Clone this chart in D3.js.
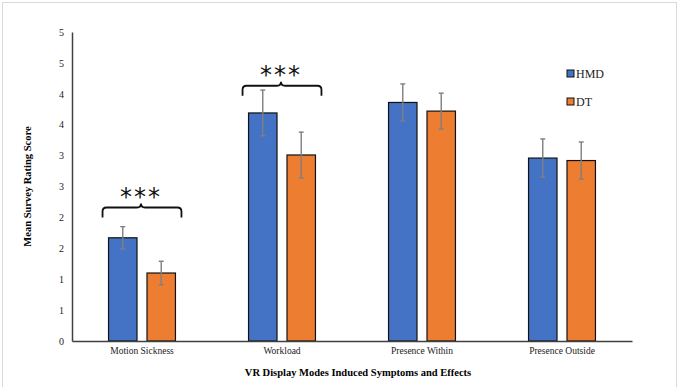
<!DOCTYPE html>
<html>
<head>
<meta charset="utf-8">
<script src="https://cdn.jsdelivr.net/npm/d3@7"></script>
<style>
  body { margin: 0; background: #fff; }
</style>
</head>
<body>
<div id="chart"></div>
<script>
// data
const categories = ["Motion Sickness", "Workload", "Presence Within", "Presence Outside"];
const series = ["HMD", "DT"];
const hmdMeans = [1.67, 3.69, 3.86, 2.96];
const hmdErr = [0.18, 0.37, 0.30, 0.31];
const dtMeans = [1.10, 3.01, 3.72, 2.92];
const dtErr = [0.19, 0.37, 0.29, 0.30];
const yTicks = [0, 0.5, 1, 1.5, 2, 2.5, 3, 3.5, 4, 4.5, 5];
// significance brackets: category and bracket height (in score units)
const sigCats = ["Motion Sickness", "Workload"];
const sigLevels = [2.16, 4.13];

const width = 680;
const height = 387;
const margin = { top: 32, right: 48, bottom: 46, left: 72 };
const colors = { HMD: "#4472C4", DT: "#ED7D31" };
const serif = "'Liberation Serif', 'Times New Roman', serif";

const svg = d3.select("#chart")
    .append("svg")
    .attr("width", width)
    .attr("height", height)
    .style("font-family", serif);

// chart border
svg.append("rect")
    .attr("x", 2.5).attr("y", 2.5)
    .attr("width", 674).attr("height", 390)
    .attr("fill", "none")
    .attr("stroke", "#d9d9d9");

const x = d3.scaleBand()
    .domain(categories)
    .range([margin.left, width - margin.right]);

const x1 = d3.scaleBand()
    .domain(series)
    .range([0, x.bandwidth()])
    .paddingInner(0.26)
    .paddingOuter(0.95);

const y = d3.scaleLinear()
    .domain([0, 5])
    .range([height - margin.bottom, margin.top]);

const rows = categories.map((c, i) => ({
    cat: c,
    vals: [
        { s: "HMD", v: hmdMeans[i], e: hmdErr[i] },
        { s: "DT", v: dtMeans[i], e: dtErr[i] }
    ]
}));

// y axis
const yAxis = svg.append("g")
    .attr("transform", `translate(${margin.left},0)`)
    .call(d3.axisLeft(y).tickValues(yTicks).tickSize(0).tickPadding(8)
        .tickFormat(d => Math.round(d)));
yAxis.attr("font-family", serif);
yAxis.select(".domain").attr("stroke", "#404040").attr("stroke-width", 1.5);
yAxis.selectAll("text").style("font-family", serif).style("font-size", "10px").attr("fill", "#222");

// bars
const groups = svg.selectAll(".grp")
    .data(rows)
    .enter().append("g")
    .attr("transform", d => `translate(${x(d.cat)},0)`);

groups.selectAll("rect")
    .data(d => d.vals)
    .enter().append("rect")
    .attr("x", d => x1(d.s))
    .attr("y", d => y(d.v))
    .attr("width", x1.bandwidth())
    .attr("height", d => y(0) - y(d.v))
    .attr("fill", d => colors[d.s])
    .attr("stroke", "#111")
    .attr("stroke-width", 1.2);

// error bars
const eb = groups.selectAll(".err")
    .data(d => d.vals)
    .enter().append("g")
    .attr("stroke", "#7f7f7f")
    .attr("stroke-width", 1.4);
eb.append("line")
    .attr("x1", d => x1(d.s) + x1.bandwidth() / 2)
    .attr("x2", d => x1(d.s) + x1.bandwidth() / 2)
    .attr("y1", d => y(d.v + d.e))
    .attr("y2", d => y(d.v - d.e));
[1, -1].forEach(k => {
    eb.append("line")
        .attr("x1", d => x1(d.s) + x1.bandwidth() / 2 - 2.5)
        .attr("x2", d => x1(d.s) + x1.bandwidth() / 2 + 2.5)
        .attr("y1", d => y(d.v + k * d.e))
        .attr("y2", d => y(d.v + k * d.e));
});

// x axis
const xAxis = svg.append("g")
    .attr("transform", `translate(0,${y(0)})`)
    .call(d3.axisBottom(x).tickSize(0).tickPadding(6));
xAxis.attr("font-family", serif);
xAxis.select(".domain").attr("stroke", "#404040").attr("stroke-width", 1.5);
xAxis.selectAll("text").style("font-family", serif).style("font-size", "9.5px").attr("fill", "#222");

// significance brackets
sigCats.forEach((c, i) => {
    const left = x(c) + x1("HMD") - 6;
    const right = x(c) + x1("DT") + x1.bandwidth() + 6;
    const mid = x(c) + x.bandwidth() / 2 - 1;
    const yy = y(sigLevels[i]);
    const r = 4;
    const path = `M${left},${yy + 10} L${left},${yy + r} Q${left},${yy} ${left + r},${yy}
        L${mid - r},${yy} Q${mid},${yy} ${mid},${yy - r} Q${mid},${yy} ${mid + r},${yy}
        L${right - r},${yy} Q${right},${yy} ${right},${yy + r} L${right},${yy + 10}`;
    svg.append("path")
        .attr("d", path)
        .attr("fill", "none")
        .attr("stroke", "#111")
        .attr("stroke-width", 1.8);
    svg.append("text")
        .attr("x", mid)
        .attr("y", yy - 3)
        .attr("text-anchor", "middle")
        .style("font-family", "'DejaVu Sans', sans-serif")
        .style("font-size", "24px")
        .style("letter-spacing", "2px")
        .attr("fill", "#111")
        .text("***");
});

// axis titles
svg.append("text")
    .attr("x", (margin.left + width - margin.right) / 2 + 6)
    .attr("y", 376)
    .attr("text-anchor", "middle")
    .style("font-family", serif)
    .style("font-size", "10.5px")
    .style("font-weight", "bold")
    .text("VR Display Modes Induced Symptoms and Effects");

svg.append("text")
    .attr("transform", `translate(31,${(margin.top + y(0)) / 2}) rotate(-90)`)
    .attr("text-anchor", "middle")
    .style("font-family", serif)
    .style("font-size", "10.5px")
    .style("font-weight", "bold")
    .text("Mean Survey Rating Score");

// legend
const legend = svg.append("g")
    .attr("transform", "translate(567,70)");
const li = legend.selectAll(".li")
    .data(series)
    .enter().append("g")
    .attr("transform", (d, i) => `translate(0,${i * 28})`);
li.append("rect")
    .attr("width", 7).attr("height", 7)
    .attr("fill", d => colors[d])
    .attr("stroke", "#111")
    .attr("stroke-width", 1);
li.append("text")
    .attr("x", 9)
    .attr("y", 4)
    .attr("dy", ".35em")
    .style("font-family", serif)
    .style("font-size", "12px")
    .attr("fill", "#222")
    .text(d => d);
</script>
</body>
</html>
